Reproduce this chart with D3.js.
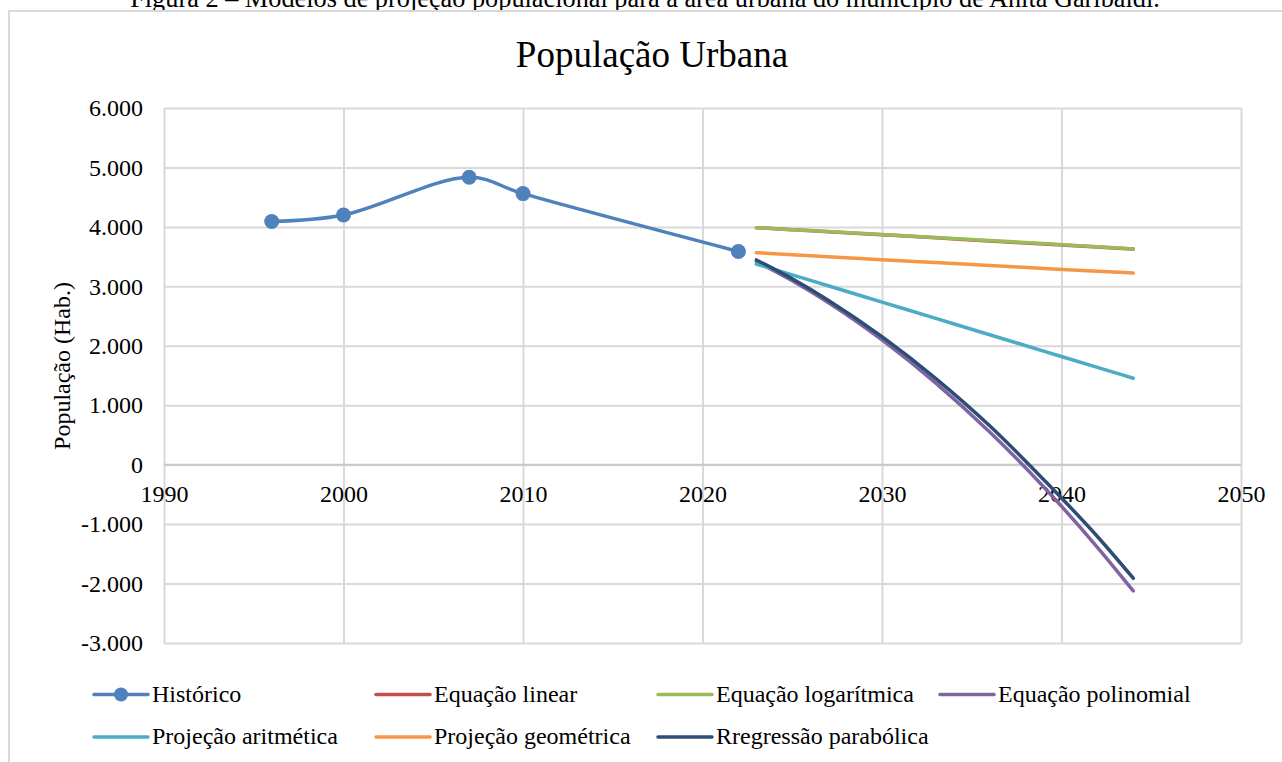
<!DOCTYPE html>
<html>
<head>
<meta charset="utf-8">
<script src="https://cdn.jsdelivr.net/npm/d3@7"></script>
<style>
  body { margin: 0; background: #fff; }
  svg { display: block; font-family: "Liberation Serif", "Times New Roman", serif; }
</style>
</head>
<body>
<div id="chart"></div>
<script>
// Data
const histYears = [1996, 2000, 2007, 2010, 2022];
const histValues = [4090, 4200, 4835, 4560, 3587];

const projYears = [2023, 2025, 2027, 2030, 2033, 2036, 2039, 2042, 2044];
const linearValues = [3987, 3953, 3918, 3867, 3816, 3764, 3713, 3661, 3627];
const logValues = [3985, 3953, 3921, 3872, 3822, 3771, 3719, 3665, 3630];
const polyValues = [3415, 3093, 2728, 2098, 1372, 548, -372, -1390, -2125];
const arithValues = [3376, 3193, 3010, 2735, 2460, 2186, 1911, 1636, 1453];
const geomValues = [3567, 3532, 3498, 3448, 3399, 3350, 3302, 3254, 3223];
const parabValues = [3444, 3126, 2767, 2153, 1449, 654, -250, -1208, -1911];

const seriesNames = ["Histórico", "Equação linear", "Equação logarítmica", "Equação polinomial",
  "Projeção aritmética", "Projeção geométrica", "Rregressão parabólica"];
const seriesColors = ["#4F81BD", "#C0504D", "#9BBB59", "#8064A2", "#4BACC6", "#F79646", "#2C4D75"];

const xTicks = [1990, 2000, 2010, 2020, 2030, 2040, 2050];
const yTicks = [-3000, -2000, -1000, 0, 1000, 2000, 3000, 4000, 5000, 6000];

const caption = "Figura 2 – Modelos de projeção populacional para a área urbana do município de Anita Garibaldi.";
const title = "População Urbana";
const yTitle = "População (Hab.)";

const W = 1282, H = 762;
const PLOT = {LEFT: 164, RIGHT: 1241, TOP: 108, BOTTOM: 643};

const svg = d3.select("#chart").append("svg")
    .attr("width", W)
    .attr("height", H);

// pt-BR number format: 6.000, -1.000
const ptBR = d3.formatLocale({decimal: ",", thousands: ".", grouping: [3], currency: ["R$", ""], minus: "-"});
const fmt = ptBR.format(",d");

// caption, cut off at the top of the page as in the source
svg.append("text")
    .attr("x", 645)
    .attr("y", 7)
    .attr("text-anchor", "middle")
    .attr("font-size", 26.3)
    .attr("fill", "#000")
    .text(caption);

// chart area border (runs off page right/bottom)
svg.append("rect")
    .attr("x", 9).attr("y", 11)
    .attr("width", 1320).attr("height", 800)
    .attr("fill", "#fff")
    .attr("stroke", "#D9D9D9")
    .attr("stroke-width", 2);

svg.append("text")
    .attr("x", 652)
    .attr("y", 67)
    .attr("text-anchor", "middle")
    .attr("font-size", 37)
    .text(title);

// Scales
const x = d3.scaleLinear().domain([1990, 2050]).range([PLOT.LEFT, PLOT.RIGHT]);
const y = d3.scaleLinear().domain([-3000, 6000]).range([PLOT.BOTTOM, PLOT.TOP]);

// Gridlines
svg.append("g")
    .attr("transform", `translate(0, ${PLOT.BOTTOM})`)
    .call(d3.axisBottom(x).tickValues(xTicks).tickSize(-(PLOT.BOTTOM - PLOT.TOP)).tickFormat(""))
    .call(g => g.select(".domain").remove())
    .call(g => g.selectAll("line").attr("stroke", "#D9D9D9").attr("stroke-width", 2));
svg.append("g")
    .attr("transform", `translate(${PLOT.LEFT}, 0)`)
    .call(d3.axisLeft(y).tickValues(yTicks).tickSize(-(PLOT.RIGHT - PLOT.LEFT)).tickFormat(""))
    .call(g => g.select(".domain").remove())
    .call(g => g.selectAll("line").attr("stroke", "#D9D9D9").attr("stroke-width", 2));

// Horizontal axis line at zero
svg.append("line")
    .attr("x1", PLOT.LEFT).attr("x2", PLOT.RIGHT)
    .attr("y1", y(0)).attr("y2", y(0))
    .attr("stroke", "#C8C8C8")
    .attr("stroke-width", 2);

// Axis labels
svg.append("g")
    .attr("transform", `translate(${PLOT.LEFT}, 0)`)
    .call(d3.axisLeft(y).tickValues(yTicks).tickSize(0).tickPadding(21).tickFormat(fmt))
    .call(g => g.select(".domain").remove())
    .call(g => g.selectAll("text").attr("font-size", 24).attr("fill", "#000")
        .attr("font-family", "'Liberation Serif', 'Times New Roman', serif"));
svg.append("g")
    .attr("transform", `translate(0, ${y(0)})`)
    .call(d3.axisBottom(x).tickValues(xTicks).tickSize(0).tickPadding(20).tickFormat(d3.format("d")))
    .call(g => g.select(".domain").remove())
    .call(g => g.selectAll("text").attr("font-size", 24).attr("fill", "#000")
        .attr("font-family", "'Liberation Serif', 'Times New Roman', serif"));

svg.append("text")
    .attr("transform", `translate(70, 366) rotate(-90)`)
    .attr("text-anchor", "middle")
    .attr("font-size", 24)
    .text(yTitle);

// Series
const hist = histYears.map((d, i) => ({year: d, value: histValues[i]}));
const projections = [linearValues, logValues, polyValues, arithValues, geomValues, parabValues]
    .map(vals => projYears.map((d, i) => ({year: d, value: vals[i]})));

const histLine = d3.line()
    .x(d => x(d.year))
    .y(d => y(d.value))
    .curve(d3.curveCatmullRom);
const projLine = d3.line()
    .x(d => x(d.year))
    .y(d => y(d.value))
    .curve(d3.curveMonotoneX);

svg.append("path")
    .datum(hist)
    .attr("d", histLine)
    .attr("fill", "none")
    .attr("stroke", seriesColors[0])
    .attr("stroke-width", 3.5)
    .attr("stroke-linecap", "round");
svg.selectAll("circle.hist")
    .data(hist)
    .enter()
    .append("circle")
    .attr("class", "hist")
    .attr("cx", d => x(d.year))
    .attr("cy", d => y(d.value))
    .attr("r", 7.5)
    .attr("fill", seriesColors[0]);

projections.forEach((data, i) => {
    svg.append("path")
        .datum(data)
        .attr("d", projLine)
        .attr("fill", "none")
        .attr("stroke", seriesColors[i + 1])
        .attr("stroke-width", 3.5)
        .attr("stroke-linecap", "round");
});

// Legend: 4 columns, 2 rows
const legend = svg.append("g");
seriesNames.forEach((name, i) => {
    const lx = 94 + 282 * (i % 4);
    const ly = i < 4 ? 694.5 : 737;
    const item = legend.append("g").attr("transform", `translate(${lx}, ${ly})`);
    item.append("line")
        .attr("x1", 0).attr("x2", 54)
        .attr("stroke", seriesColors[i])
        .attr("stroke-width", 3.5)
        .attr("stroke-linecap", "round");
    if (i === 0) {
        item.append("circle").attr("cx", 27).attr("r", 7).attr("fill", seriesColors[0]);
    }
    item.append("text")
        .attr("x", 58)
        .attr("dy", "0.31em")
        .attr("font-size", 24)
        .text(name);
});
</script>
</body>
</html>
